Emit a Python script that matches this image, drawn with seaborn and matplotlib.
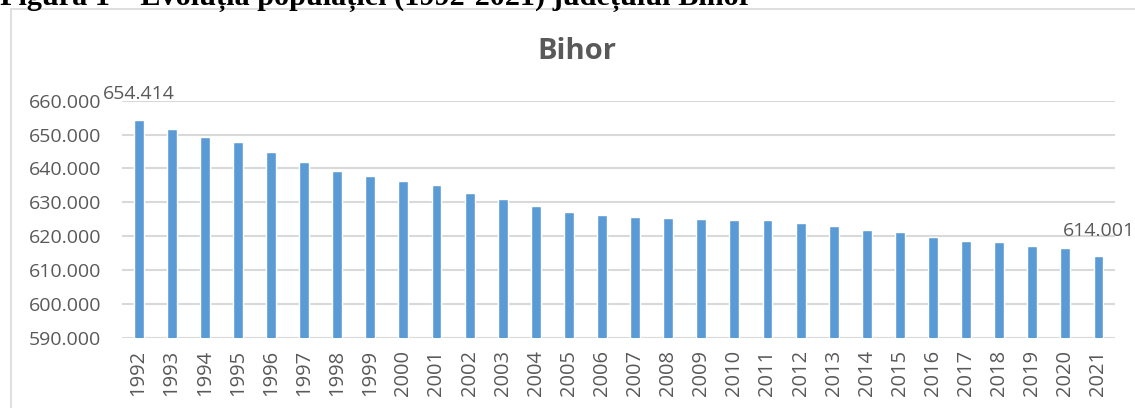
# Bar chart of the population of Bihor county 1992-2021
# Export the plot to out.png

import matplotlib.pyplot as plt
import matplotlib.ticker as mticker
from matplotlib.patches import Rectangle
import seaborn as sns
import pandas as pd

# Data
years = [str(y) for y in range(1992, 2022)]
population = [654414, 651700, 649400, 647700, 644900, 641900, 639200, 637900,
              636400, 635100, 632800, 631000, 629000, 627200, 626100, 625600,
              625500, 625200, 624900, 624700, 623900, 623100, 621900, 621100,
              619700, 618700, 618300, 617200, 616400, 614001]
labelled_years = ["1992", "2021"]   # only first and last bars carry a value label

caption = "Figura 1 – Evoluția populației (1992-2021) județului Bihor"
chart_title = "Bihor"

df = pd.DataFrame({"An": years, "Populatie": population})

sns.set_style("white")
plt.rcParams['font.family'] = ['Open Sans', 'DejaVu Sans']
grey = "#595959"

def dots(v, pos=None):
    return f"{int(round(v)):,}".replace(",", ".")   # 660000 -> 660.000

fig = plt.figure(figsize=(11.35, 4.08), dpi=100)
ax = fig.add_axes([0.1075, 0.1723, 0.8749, 0.5809])

sns.barplot(data=df, x="An", y="Populatie", color="#5b9bd5", width=0.3,
            saturation=1, ax=ax)

ax.set_ylim(590000, 660000)
ax.set_xlim(-0.5, len(years) - 0.5)
ax.yaxis.set_major_locator(mticker.MultipleLocator(10000))
ax.yaxis.set_major_formatter(mticker.FuncFormatter(dots))
ax.grid(axis="y", color="#d9d9d9", linewidth=1.5)
ax.set_axisbelow(True)
sns.despine(ax=ax, left=True, bottom=True)
ax.set_xlabel("")
ax.set_ylabel("")
ax.tick_params(axis="y", length=0, pad=15, labelsize=14, labelcolor=grey)
ax.tick_params(axis="x", length=0, pad=9, labelsize=14.5, labelcolor=grey,
               labelrotation=90)

# value labels on the first and last bars
for yr in labelled_years:
    i = years.index(yr)
    ax.annotate(dots(population[i]), (i, population[i]), xytext=(0, 12),
                textcoords="offset points", ha="center", va="bottom",
                fontsize=14, color=grey, annotation_clip=False)

fig.text(0.5081, 0.855, chart_title, ha="center", va="baseline",
         fontsize=21, fontweight="bold", color=grey)

# chart frame, cut off on the right and bottom like the screenshot
fig.patches.append(Rectangle((11 / 1135, -0.1), 1.2, 1 - 9 / 408 + 0.1,
                             transform=fig.transFigure, fill=False,
                             edgecolor="#d9d9d9", linewidth=1.2))

# document caption, only its lower part is visible
fig.text(0.0, 1 - 5 / 408, caption, ha="left", va="baseline",
         family="Liberation Serif", fontweight="bold", fontsize=21.8, color="black")

plt.savefig("out.png", dpi=100)
plt.close()
